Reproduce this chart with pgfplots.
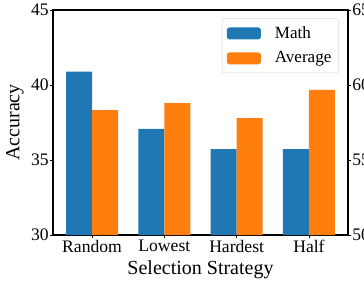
\documentclass[border=0pt]{standalone}
\usepackage{pgfplots}
\pgfplotsset{compat=1.18}
\usepackage{fontspec}
\setmainfont{Liberation Serif}
\definecolor{mblue}{HTML}{1F77B4}
\definecolor{morange}{HTML}{FF7F0E}
\begin{document}
\begin{tikzpicture}
\pgfplotsset{
  common/.style={
    at={(0,0)}, anchor=south west,
    scale only axis, width=221.25pt, height=168.75pt,
    xmin=-0.54, xmax=3.54,
    /pgf/number format/assume math mode=true,
    tick label style={font=\fontsize{13.2}{15}\selectfont},
    label style={font=\fontsize{15}{17}\selectfont},
    tick align=outside,
    major tick length=2.4pt,
    axis line style={line width=0.8pt, black},
    every tick/.style={line width=0.6pt, black},
  }
}
\begin{axis}[common,
  ymin=30, ymax=45,
  xtick={0,1,2,3}, xticklabels={Random,Lowest,Hardest,Half},
  ytick={30,35,40,45},
  xtick pos=bottom, ytick pos=left,
  yticklabel style={inner xsep=0.6pt},
  xticklabel style={inner ysep=1.5pt},
  xlabel={Selection Strategy}, ylabel={Accuracy},
  xlabel style={at={(axis description cs:0.5,0)}, anchor=center, yshift=-26pt},
  ylabel style={at={(axis description cs:-0.129,0.5)}, anchor=center},
  legend style={at={(axis description cs:1,1)}, anchor=north east, xshift=-6.75pt, yshift=-6.2pt,
    draw=black!15, rounded corners=2pt, fill=white,
    font=\fontsize{12.8}{14}\selectfont, row sep=4.5pt, inner xsep=3.5pt, inner ysep=4pt},
  legend cell align=left,
  legend image code/.code={\fill[#1] (0pt,-4.5pt) rectangle (25.5pt,4.5pt);},
]
\addplot[ybar, bar width=0.36, bar shift=0pt, fill=mblue, draw=none]
  coordinates {(-0.18,40.9) (0.82,37.07) (1.82,35.73) (2.82,35.73)};
\addlegendentry{\hspace{8.5pt}Math}
\addlegendimage{fill=morange, draw=none}
\addlegendentry{\hspace{8.5pt}Average}
\end{axis}
\begin{axis}[common,
  ymin=50, ymax=65,
  axis y line*=right, axis x line=none,
  ytick={50,55,60,65},
  yticklabel style={inner xsep=0.6pt},
]
\addplot[ybar, bar width=0.36, bar shift=0pt, fill=morange, draw=none]
  coordinates {(0.18,58.33) (1.18,58.8) (2.18,57.8) (3.18,59.67)};
\end{axis}
\pgfresetboundingbox
\useasboundingbox (-39.75pt,-33.75pt) rectangle (233.25pt,176.25pt);
\end{tikzpicture}
\end{document}
